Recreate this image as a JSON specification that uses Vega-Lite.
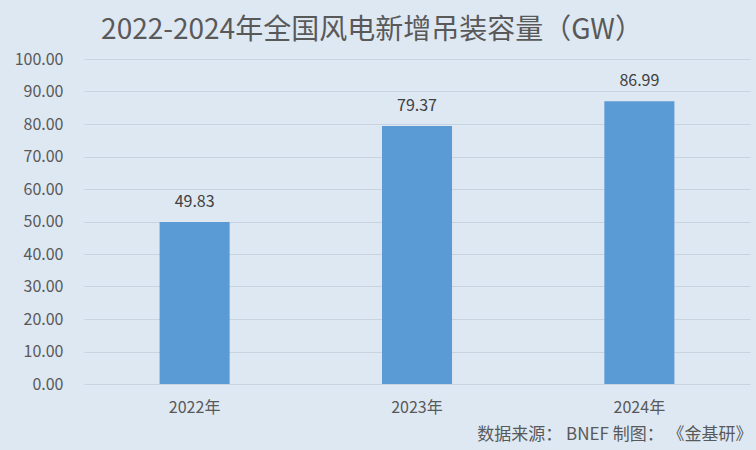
{
  "$schema": "https://vega.github.io/schema/vega-lite/v6.json",
  "autosize": "none",
  "width": 666,
  "height": 325,
  "padding": {"left": 84, "top": 59, "right": 6, "bottom": 66},
  "background": "#dee8f3",
  "title": {
    "text": "2022-2024年全国风电新增吊装容量（GW）",
    "font": "Noto Sans CJK SC",
    "fontSize": 28,
    "fontWeight": "normal",
    "color": "#595959",
    "anchor": "middle",
    "dx": -45,
    "offset": 6
  },
  "config": {
    "view": {"stroke": null},
    "font": "Noto Sans CJK SC"
  },
  "data": {
    "values": [
      {"year": "2022年", "value": 49.83},
      {"year": "2023年", "value": 79.37},
      {"year": "2024年", "value": 86.99}
    ]
  },
  "encoding": {
    "x": {
      "field": "year",
      "type": "nominal",
      "sort": null,
      "scale": {"paddingInner": 0.685, "paddingOuter": 0.34},
      "axis": {
        "labelAngle": 0,
        "labelFontSize": 16,
        "labelColor": "#595959",
        "labelPadding": 15,
        "domain": false,
        "ticks": false,
        "title": "数据来源： BNEF  制图： 《金基研》",
        "titleFontSize": 17,
        "titleFontWeight": "normal",
        "titleColor": "#595959",
        "titleAnchor": "end",
        "titleAlign": "right",
        "titlePadding": 11,
        "titleX": 668
      }
    },
    "y": {
      "field": "value",
      "type": "quantitative",
      "scale": {"domain": [0, 100]},
      "axis": {
        "values": [0, 10, 20, 30, 40, 50, 60, 70, 80, 90, 100],
        "format": ".2f",
        "labelFontSize": 16,
        "labelColor": "#595959",
        "labelPadding": 21,
        "domain": false,
        "ticks": false,
        "title": null,
        "gridColor": "#c8d3e1",
        "gridWidth": 1
      }
    }
  },
  "layer": [
    {"mark": {"type": "bar", "color": "#5b9bd5"}},
    {
      "mark": {"type": "text", "dy": -20, "fontSize": 16, "color": "#404040"},
      "encoding": {"text": {"field": "value", "type": "quantitative", "format": ".2f"}}
    }
  ]
}
